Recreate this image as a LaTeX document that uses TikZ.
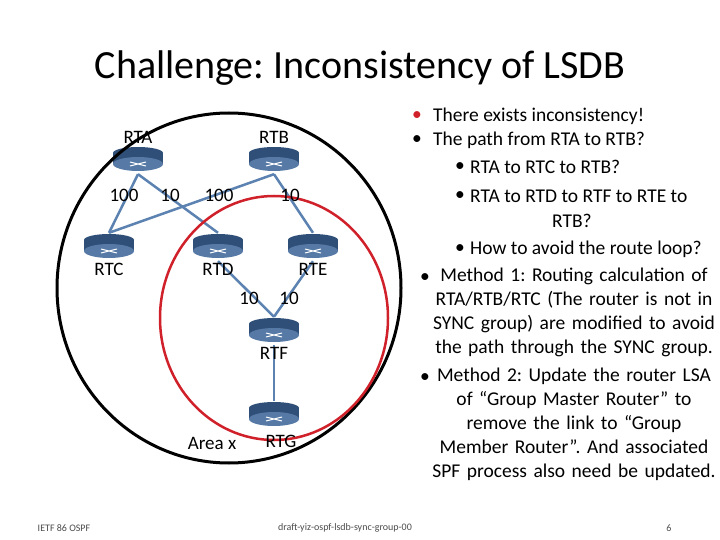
\documentclass[tikz,border=0pt]{standalone}
\usepackage{fontspec}
\setmainfont{Carlito}
\usetikzlibrary{positioning,calc}
\definecolor{linkblue}{HTML}{5B82B0}
\definecolor{rtdark}{HTML}{2F4F78}
\definecolor{rttop}{HTML}{5679A6}
\definecolor{ietfred}{HTML}{D0202A}
\frenchspacing
\begin{document}
\begin{tikzpicture}[x=1pt,y=-1pt,
  router/.style={minimum width=50pt,minimum height=28pt,inner sep=0pt,
    path picture={
      \fill[rtdark] ([xshift=-25pt,yshift=-4pt]path picture bounding box.center) rectangle ([xshift=25pt,yshift=7pt]path picture bounding box.center);
      \fill[rtdark] ([yshift=7pt]path picture bounding box.center) ellipse (25pt and 6pt);
      \fill[rttop] ([yshift=-4pt]path picture bounding box.center) ellipse (25pt and 7pt);
      \draw[white,line width=1pt] ([xshift=-8pt,yshift=-6pt]path picture bounding box.center) -- ([xshift=8pt,yshift=-2pt]path picture bounding box.center)
        ([xshift=-8pt,yshift=-2pt]path picture bounding box.center) -- ([xshift=8pt,yshift=-6pt]path picture bounding box.center);
    }},
  link/.style={linkblue,line width=2.5pt},
  lbl/.style={font=\fontsize{19}{19}\selectfont,inner sep=0pt},
  cost/.style={font=\fontsize{19}{19}\selectfont,inner sep=0pt},
  txt/.style={font=\fontsize{19.5}{24}\selectfont,inner sep=0pt,anchor=west}]
\useasboundingbox[fill=white] (0,0) rectangle (720,540);
\node[font=\fontsize{40}{40}\selectfont] (title) at (360,68) {Challenge: Inconsistency of LSDB};
% routers
\node[router] (rta) at (138,160) {};
\node[router] (rtb) at (274,160) {};
\node[router] (rtc) at (109,247) {};
\node[router] (rtd) at (218,247) {};
\node[router] (rte) at (313,247) {};
\node[router] (rtf) at (274,331) {};
\node[router] (rtg) at (274,415) {};
% links
\draw[link] (rta.south) -- (rtc.north);
\draw[link] (rta.south) -- (rtd.north);
\draw[link] (rtb.south) -- (rtc.north);
\draw[link] (rtb.south) -- (rte.north);
\draw[link] (rtd.south) -- (rtf.north);
\draw[link] (rte.south) -- (rtf.north);
\draw[link] (rtf.south) -- (rtg.north);
% areas
\draw[black,line width=3pt] (229,288) ellipse (172pt and 175pt);
\draw[ietfred,line width=2.5pt] (274,318) ellipse (114pt and 122pt);
% labels
\node[lbl,above=2pt of rta] {RTA};
\node[lbl,above=2pt of rtb] {RTB};
\node[lbl,below=2pt of rtc] {RTC};
\node[lbl,below=2pt of rtd] {RTD};
\node[lbl,below=2pt of rte] {RTE};
\node[lbl,below=2pt of rtf] {RTF};
\node[lbl] (rtglbl) at (281,441) {RTG};
\node[lbl] (area) at (212,443) {Area x};
\node[cost] at (124,195) {100};
\node[cost] at (170,195) {10};
\node[cost] at (219,195) {100};
\node[cost] at (290,195) {10};
\node[cost] at (249,298) {10};
\node[cost] at (289,298) {10};
% bullets
\node[txt] at (412,116) {\textcolor{ietfred}{•}};
\node[txt] at (433,116) {There exists inconsistency!};
\node[txt] at (412,140) {•};
\node[txt] at (433,140) {The path from RTA to RTB?};
\node[txt] at (455,167) {•};
\node[txt] at (470,167) {RTA to RTC to RTB?};
\node[txt] at (455,196) {•};
\node[txt] at (470,196) {RTA to RTD to RTF to RTE to};
\node[txt] at (552,221) {RTB?};
\node[txt] at (455,249) {•};
\node[txt] at (470,249) {How to avoid the route loop?};
\node[txt] at (420,278) {•};
\node[txt,anchor=north,align=center,text width=290pt] at (574,268) {Method 1: Routing calculation of\\RTA/RTB/RTC (The router is not in\\SYNC group) are modified to avoid\\the path through the SYNC group.};
\node[txt] at (420,378) {•};
\node[txt,anchor=north,align=center,text width=290pt] at (574,368) {Method 2: Update the router LSA\\of “Group Master Router” to\\remove the link to “Group\\Member Router”. And associated\\SPF process also need be updated.};
% footer
\node[font=\fontsize{10}{10}\selectfont,text=black!70] at (64,528) {IETF 86 OSPF};
\node[font=\fontsize{10}{10}\selectfont,text=black!70] at (345,528) {draft-yiz-ospf-lsdb-sync-group-00};
\node[font=\fontsize{10}{10}\selectfont,text=black!70] at (669,528) {6};
\end{tikzpicture}
\end{document}
